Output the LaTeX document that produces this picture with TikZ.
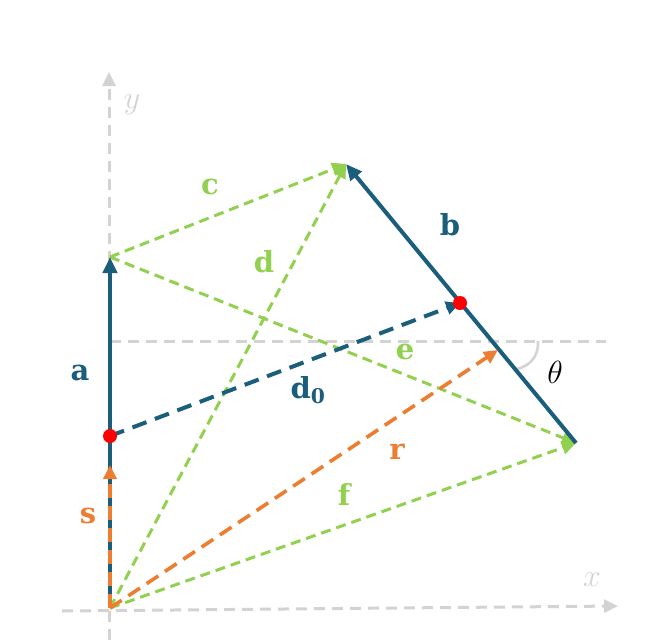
\documentclass[tikz,border=0pt]{standalone}
\usepackage{fix-cm}
\usepackage{fontspec}
\newfontfamily\labfont{DejaVu Serif}
\usetikzlibrary{arrows.meta}
\definecolor{dblue}{HTML}{1B5E7B}
\definecolor{lgreen}{HTML}{92D050}
\definecolor{orng}{HTML}{ED7D31}
\definecolor{lgray}{HTML}{D3D3D3}
\begin{document}
\begin{tikzpicture}[x=1pt,y=-1pt,
  axis/.style={lgray,line width=3pt,dash pattern=on 11pt off 7pt,-{Triangle[length=14pt,width=13pt]}},
  gvec/.style={lgreen,line width=3pt,dash pattern=on 10pt off 6pt,-{Triangle[length=14pt,width=13pt]}},
  bvec/.style={dblue,line width=4pt,-{Triangle[length=16pt,width=14pt]}},
  dvec/.style={dblue,line width=4pt,dash pattern=on 15pt off 9pt,-{Triangle[length=14pt,width=13pt]}},
  ovec/.style={orng,line width=3.6pt,dash pattern=on 14pt off 8pt,-{Triangle[length=14pt,width=13pt]}},
  dot/.style={circle,fill=red,inner sep=0pt,minimum size=14pt},
  lab/.style={font=\labfont\fontsize{29}{34}\selectfont\bfseries,inner sep=0pt}]
\useasboundingbox (0,0) rectangle (650,640);
% points
\coordinate (O) at (110,608);
\coordinate (A) at (110,257);
\coordinate (P) at (110,436);
\coordinate (S) at (110,465);
\coordinate (B) at (576,443);
\coordinate (T) at (346,164);
\coordinate (Q) at (460,303);
\coordinate (R) at (498,350);
\coordinate (xs) at (62,611);
\coordinate (xe) at (618,606);
\coordinate (ys) at (109,640);
\coordinate (ye) at (109,72);
\coordinate (hs) at (110,341);
\coordinate (he) at (606,341);
\coordinate (th1) at (538,341);
\coordinate (th2) at (517,369);
% axes
\draw[axis] (xs) -- (xe);
\draw[axis] (ys) -- (ye);
\draw[lgray,line width=3pt,dash pattern=on 11pt off 7pt] (hs) -- (he);
\draw[lgray,line width=2.6pt] (th1) .. controls (539,356) and (530,366) .. (th2);
% green vectors
\draw[gvec] (A) -- (T);
\draw[gvec] (O) -- (T);
\draw[gvec] (A) -- (B);
\draw[gvec] (O) -- (B);
% blue vectors
\draw[bvec] (O) -- (A);
\draw[bvec] (B) -- (T);
\draw[dvec] (P) -- (Q);
% orange vectors
\draw[ovec] (O) -- (R);
\draw[ovec] (O) -- (S);
% dots
\node[dot] (p) at (P) {};
\node[dot] (q) at (Q) {};
% labels
\node[lab,text=lgreen] (lc) at (210,187) {c};
\node[lab,text=dblue] (lb) at (450,225) {b};
\node[lab,text=lgreen] (ld) at (264,262) {d};
\node[lab,text=dblue] (la) at (80,373) {a};
\node[lab,text=lgreen] (le) at (405,352) {e};
\node[lab,text=dblue] (ld0) at (308,390) {d\textsubscript{0}};
\node[lab,text=orng] (lr) at (397,452) {r};
\node[lab,text=lgreen] (lf) at (344,494) {f};
\node[lab,text=orng] (ls) at (88,516) {s};
\node[inner sep=0pt,font=\fontsize{32}{36}\selectfont] (lth) at (555,372) {$\theta$};
\node[inner sep=0pt,font=\fontsize{32}{36}\selectfont,text=lgray] (ly) at (132,105) {$y$};
\node[inner sep=0pt,font=\fontsize{32}{36}\selectfont,text=lgray] (lx) at (592,580) {$x$};
\end{tikzpicture}
\end{document}
